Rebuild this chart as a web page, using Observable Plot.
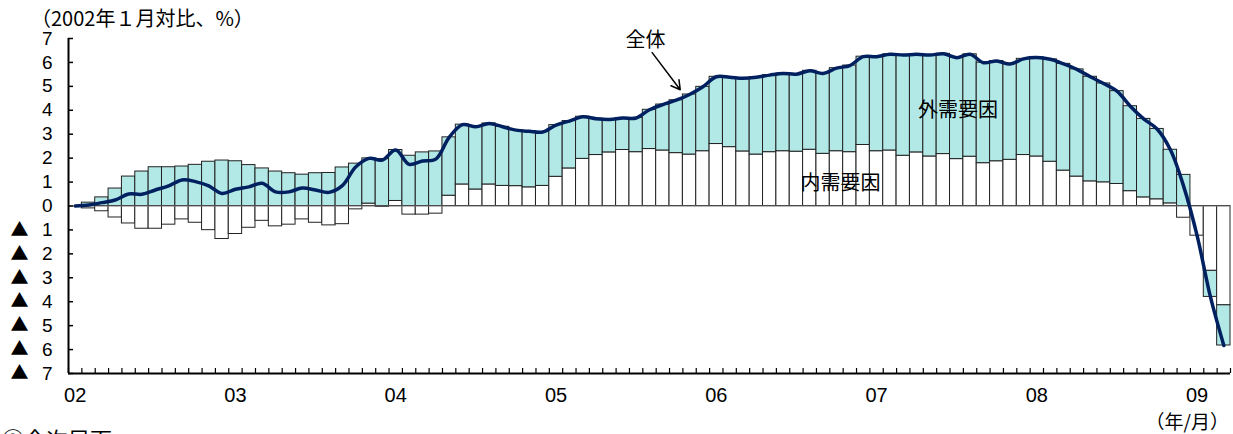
<!DOCTYPE html>
<html>
<head>
<meta charset="utf-8">
<script src="https://cdn.jsdelivr.net/npm/d3@7"></script>
<script src="https://cdn.jsdelivr.net/npm/@observablehq/plot@0.6"></script>
<style>
  body { margin: 0; background: #fff; }
  #wrap { position: relative; width: 1233px; height: 434px; overflow: hidden;
          font-family: "Noto Sans CJK JP", sans-serif; color: #000; }
  .t { position: absolute; white-space: nowrap; line-height: 1; }
  #chart { position: absolute; left: 0; top: 0; }
</style>
</head>
<body>
<div id="wrap">
  <div id="chart"></div>
  <div class="t" style="left:31px;top:8px;font-size:20px;">（2002年１月対比、%）</div>
  <div class="t" style="right:4px;top:411px;font-size:19px;">（年/月）</div>
  <div class="t" style="left:2px;top:427px;font-size:22px;">③今次局面</div>
</div>
<script>
// Monthly contributions, Jan 2002 – Mar 2009 (change vs. Jan 2002, %)
const monthCount = 87;
const domestic = [
  0, -0.10, -0.22, -0.48, -0.73, -0.95, -0.95, -0.78, -0.56, -0.70,
  -1.01, -1.38, -1.17, -0.91, -0.62, -0.85, -0.78, -0.56, -0.70, -0.81,
  -0.76, -0.14, 0.10, -0.04, 0.21, -0.36, -0.36, -0.32, 0.43, 0.90,
  0.69, 0.90, 0.84, 0.83, 0.78, 0.84, 1.22, 1.57, 1.97, 2.13,
  2.24, 2.34, 2.25, 2.38, 2.32, 2.21, 2.15, 2.29, 2.59, 2.46,
  2.28, 2.15, 2.25, 2.29, 2.27, 2.35, 2.18, 2.29, 2.25, 2.55,
  2.29, 2.32, 2.10, 2.24, 2.07, 2.17, 1.96, 2.06, 1.79, 1.87,
  1.93, 2.13, 2.07, 1.85, 1.48, 1.23, 1.03, 0.99, 0.92, 0.62,
  0.36, 0.28, 0.11, -0.49, -1.24, -2.71, -4.15
];
const external = [
  0, 0.14, 0.36, 0.73, 1.23, 1.44, 1.62, 1.62, 1.65, 1.72,
  1.85, 1.90, 1.87, 1.71, 1.57, 1.44, 1.37, 1.31, 1.37, 1.38,
  1.61, 1.77, 1.89, 1.96, 2.13, 2.10, 2.24, 2.28, 2.44, 2.50,
  2.62, 2.55, 2.47, 2.34, 2.34, 2.25, 2.16, 1.98, 1.76, 1.52,
  1.38, 1.34, 1.43, 1.64, 1.92, 2.21, 2.51, 2.69, 2.81, 2.92,
  3.06, 3.23, 3.22, 3.25, 3.24, 3.30, 3.36, 3.47, 3.62, 3.69,
  3.95, 4.02, 4.21, 4.10, 4.24, 4.19, 4.24, 4.28, 4.20, 4.19,
  4.00, 4.02, 4.14, 4.28, 4.46, 4.48, 4.37, 4.13, 3.88, 3.55,
  3.28, 2.94, 2.24, 1.30, 0.00, -1.09, -1.68
];
const total = [
  0, 0.04, 0.14, 0.25, 0.50, 0.49, 0.67, 0.84, 1.09, 1.02,
  0.84, 0.52, 0.70, 0.80, 0.95, 0.59, 0.59, 0.75, 0.67, 0.57,
  0.85, 1.63, 1.99, 1.92, 2.34, 1.74, 1.88, 1.96, 2.87, 3.40,
  3.31, 3.45, 3.31, 3.17, 3.12, 3.09, 3.38, 3.55, 3.73, 3.65,
  3.62, 3.68, 3.68, 4.02, 4.24, 4.42, 4.66, 4.98, 5.40, 5.38,
  5.34, 5.38, 5.47, 5.54, 5.51, 5.65, 5.54, 5.76, 5.87, 6.24,
  6.24, 6.34, 6.31, 6.34, 6.31, 6.36, 6.20, 6.34, 5.99, 6.06,
  5.93, 6.15, 6.21, 6.13, 5.94, 5.71, 5.40, 5.12, 4.80, 4.17,
  3.64, 3.22, 2.35, 0.81, -1.24, -3.80, -5.83
];
const seriesNames = ["内需要因", "外需要因"];
const yearLabels = ["02", "03", "04", "05", "06", "07", "08", "09"];
const yTicks = d3.range(-7, 8);

// Callout labels (month index, value)
const labelTexts = ["全体", "外需要因", "内需要因"];
const labelX = [43.2, 66.6, 57.8];
const labelY = [6.92, 3.98, 0.92];
const arrowFrom = [43.7, 6.41];
const arrowTo = [45.8, 4.86];

const months = d3.range(monthCount);
const rows = months.flatMap(i => [
  {i, factor: seriesNames[0], value: domestic[i]},
  {i, factor: seriesNames[1], value: external[i]}
]);
const linePts = months.map(i => ({x: i + 0.5, y: total[i]}));
const labels = labelTexts.map((text, k) => ({text, x: labelX[k], y: labelY[k]}));
const januaries = yearLabels.map((_, k) => k * 12 + 0.5);
const negTicks = yTicks.filter(d => d < 0);
const numFont = '"Liberation Sans", sans-serif';
const cjkFont = '"Noto Sans CJK JP", sans-serif';

const chart = Plot.plot({
  width: 1233,
  height: 434,
  marginLeft: 68,
  marginRight: 3,
  marginTop: 38,
  marginBottom: 61,
  style: {fontFamily: cjkFont, fontSize: "20px", color: "#000", background: "#fff", overflow: "visible"},
  x: {domain: [0, monthCount]},
  y: {domain: [-7, 7]},
  color: {domain: seriesNames, range: ["#ffffff", "#b2e8e6"]},
  marks: [
    Plot.rectY(rows, {x1: "i", x2: d => d.i + 1, y: "value", fill: "factor", stroke: "#222", strokeWidth: 1}),
    Plot.ruleY([0], {stroke: "#777", strokeWidth: 1}),
    Plot.line(linePts, {x: "x", y: "y", stroke: "#002060", strokeWidth: 3.5, curve: "catmull-rom"}),
    // y labels: magnitude digits, with a ▲ sign marker for negatives
    Plot.axisY({ticks: yTicks, tickSize: 0, tickPadding: 16, fontSize: 19, fontFamily: numFont,
      tickFormat: d => `${Math.abs(d)}`}),
    Plot.text(negTicks, {y: d => d, frameAnchor: "left", dx: -49, textAnchor: "middle", text: () => "▲",
      fontSize: 18, fontFamily: cjkFont, fill: "#000"}),
    Plot.axisY({ticks: yTicks, tickSize: 5, dx: 5, strokeWidth: 1.5, tickFormat: () => ""}),
    // month ticks pointing up from the baseline, year labels centred on January
    Plot.axisX({ticks: d3.range(monthCount + 1), tickSize: 5, dy: -5, strokeWidth: 1.2, tickFormat: () => ""}),
    Plot.axisX({ticks: januaries, tickSize: 0, tickPadding: 14, fontSize: 20, fontFamily: numFont,
      tickFormat: d => yearLabels[Math.round((d - 0.5) / 12)]}),
    Plot.ruleX([0], {y1: -7, y2: 7, stroke: "#000", strokeWidth: 2}),
    Plot.ruleY([-7], {x1: 0, x2: monthCount, stroke: "#000", strokeWidth: 2}),
    Plot.arrow([{x1: arrowFrom[0], y1: arrowFrom[1], x2: arrowTo[0], y2: arrowTo[1]}],
      {x1: "x1", y1: "y1", x2: "x2", y2: "y2", stroke: "#000", strokeWidth: 1.5, headLength: 10}),
    Plot.text(labels, {x: "x", y: "y", text: "text", fontSize: 20, fill: "#000"})
  ]
});
document.getElementById("chart").appendChild(chart);
</script>
</body>
</html>
